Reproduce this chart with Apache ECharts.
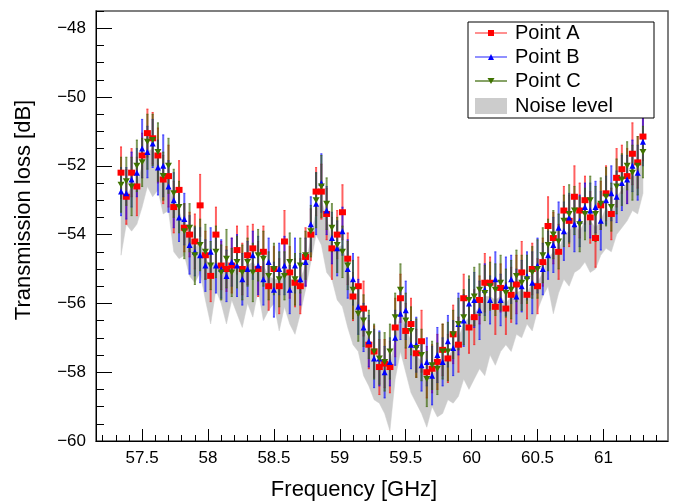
<!DOCTYPE html>
<html>
<head>
<meta charset="utf-8">
<script src="https://cdn.jsdelivr.net/npm/echarts@6/dist/echarts.min.js"></script>
<style>
html,body{margin:0;padding:0;background:#fff;}
#chart{width:676px;height:503px;}
</style>
</head>
<body>
<div id="chart"></div>
<script>
// ---------------- DATA ----------------
const freq = [57.34,57.38,57.42,57.46,57.50,57.54,57.58,57.62,57.66,57.70,
57.74,57.78,57.82,57.86,57.90,57.94,57.98,58.02,58.06,58.10,
58.14,58.18,58.22,58.26,58.30,58.34,58.38,58.42,58.46,58.50,
58.54,58.58,58.62,58.66,58.70,58.74,58.78,58.82,58.86,58.90,
58.94,58.98,59.02,59.06,59.10,59.14,59.18,59.22,59.26,59.30,
59.34,59.38,59.42,59.46,59.50,59.54,59.58,59.62,59.66,59.70,
59.74,59.78,59.82,59.86,59.90,59.94,59.98,60.02,60.06,60.10,
60.14,60.18,60.22,60.26,60.30,60.34,60.38,60.42,60.46,60.50,
60.54,60.58,60.62,60.66,60.70,60.74,60.78,60.82,60.86,60.90,
60.94,60.98,61.02,61.06,61.10,61.14,61.18,61.22,61.26,61.30];

const pointA = [-52.2,-52.9,-52.2,-52.6,-51.7,-51.05,-51.2,-51.7,-52.4,-52.3,
-53.2,-52.7,-53.8,-54.0,-54.2,-53.15,-54.6,-55.2,-54.0,-54.9,
-55.0,-54.9,-54.45,-55.0,-54.6,-54.4,-55.0,-54.5,-55.5,-55.0,
-55.5,-54.2,-55.1,-55.4,-55.5,-54.65,-54.0,-52.75,-52.75,-53.4,
-54.4,-54.0,-53.35,-54.7,-55.8,-55.5,-56.15,-57.2,-57.4,-57.85,
-57.75,-57.85,-56.7,-55.85,-56.8,-56.6,-57.45,-57.1,-58.0,-57.9,
-57.7,-57.35,-57.6,-56.9,-57.2,-55.85,-56.7,-56.4,-55.9,-55.4,
-55.4,-56.1,-55.55,-56.15,-55.75,-55.45,-55.1,-55.75,-55.0,-55.5,
-54.8,-53.75,-54.1,-54.5,-53.3,-53.6,-52.9,-53.3,-53.0,-53.5,
-54.1,-53.15,-52.8,-53.4,-52.35,-52.1,-52.3,-51.65,-51.9,-51.15];

const pointB = [-52.75,-52.8,-52.4,-52.2,-51.5,-51.6,-51.35,-52.05,-52.0,-52.6,
-53.0,-53.5,-53.55,-54.3,-54.5,-54.6,-54.9,-54.5,-54.9,-55.0,
-55.2,-54.8,-54.9,-55.3,-55.0,-54.6,-54.9,-55.3,-54.8,-55.6,
-55.0,-54.9,-55.6,-54.9,-55.3,-54.8,-53.7,-53.1,-52.5,-53.3,
-54.1,-54.4,-53.9,-55.0,-55.3,-56.1,-56.7,-57.1,-57.6,-57.6,
-58.0,-57.7,-57.0,-56.3,-56.2,-57.2,-57.2,-57.8,-57.7,-58.1,
-57.5,-57.7,-57.1,-57.3,-56.6,-56.5,-56.0,-55.9,-56.2,-55.6,
-55.9,-55.3,-55.9,-55.5,-55.3,-55.8,-55.5,-55.2,-55.4,-54.9,
-55.0,-54.6,-54.3,-53.8,-53.9,-53.5,-53.7,-53.6,-53.2,-53.3,
-53.2,-53.6,-53.0,-52.8,-52.9,-52.5,-52.4,-52.0,-52.2,-51.3];

const pointC = [-52.55,-52.45,-52.6,-52.0,-51.9,-51.3,-51.25,-51.6,-52.3,-52.0,
-52.8,-53.2,-53.9,-53.8,-54.6,-54.3,-54.5,-54.9,-54.5,-55.1,
-54.7,-55.1,-54.8,-55.1,-54.8,-55.1,-54.6,-54.7,-55.2,-55.0,
-55.3,-55.2,-54.8,-55.3,-54.9,-54.6,-53.9,-53.0,-52.6,-53.1,
-53.8,-54.3,-54.5,-54.9,-55.6,-56.3,-56.5,-56.9,-57.4,-57.6,
-57.7,-57.4,-56.4,-55.6,-56.5,-56.8,-57.3,-57.5,-58.2,-57.8,
-57.9,-57.4,-57.4,-56.9,-56.6,-56.4,-55.9,-55.8,-55.6,-55.7,
-55.5,-55.6,-55.4,-55.7,-55.6,-55.2,-55.4,-55.3,-55.1,-55.0,
-54.6,-54.3,-54.0,-54.2,-53.6,-53.4,-53.3,-53.7,-53.4,-53.0,
-53.4,-53.1,-52.9,-53.2,-52.6,-52.4,-52.0,-52.2,-52.0,-51.6];

const errA = [0.75,0.8,0.7,0.85,0.65,0.7,0.75,0.8,0.7,0.9,
0.75,0.85,0.7,0.65,0.8,0.9,0.7,0.75,0.8,0.7,
0.65,0.8,0.7,0.75,0.85,0.7,0.8,0.75,0.7,0.65,
0.8,0.9,0.75,0.7,0.8,0.85,0.75,0.7,0.8,0.75,
0.9,0.7,0.8,0.75,0.7,0.85,0.8,0.7,0.75,0.8,
0.7,0.75,0.85,0.7,0.8,0.75,0.7,0.9,0.75,0.7,
0.8,0.75,0.7,0.85,0.8,0.7,0.75,0.8,0.7,0.85,
0.75,0.8,0.7,0.75,0.8,0.85,0.9,0.7,0.75,0.8,
0.7,0.85,0.75,0.8,0.7,0.75,0.9,0.8,0.7,0.75,
0.85,0.7,0.8,0.75,0.85,0.7,0.8,0.9,0.75,0.7];

const errB = [0.7,0.75,0.8,0.7,0.85,0.75,0.7,0.8,0.9,0.75,
0.8,0.7,0.75,0.85,0.7,0.8,0.75,0.7,0.8,0.85,
0.75,0.7,0.9,0.75,0.8,0.7,0.85,0.75,0.7,0.8,
0.75,0.85,0.7,0.8,0.75,0.7,0.8,0.9,0.85,0.7,
0.75,0.8,0.7,0.85,0.75,0.8,0.7,0.75,0.85,0.8,
0.75,0.7,0.8,0.75,0.85,0.7,0.8,0.75,0.7,0.85,
0.8,0.7,0.75,0.8,0.9,0.75,0.7,0.8,0.85,0.75,
0.7,0.8,0.75,0.85,0.7,0.8,0.75,0.7,0.9,0.8,
0.75,0.7,0.8,0.75,0.85,0.7,0.8,0.75,0.7,0.8,
0.75,0.85,0.7,0.8,0.75,0.8,0.7,0.75,0.8,0.7];

const errC = [0.8,0.7,0.85,0.75,0.7,0.8,0.75,0.85,0.7,0.8,
0.7,0.75,0.8,0.7,0.85,0.75,0.8,0.7,0.75,0.8,
0.85,0.7,0.75,0.8,0.7,0.85,0.75,0.8,0.7,0.75,
0.8,0.7,0.85,0.75,0.8,0.7,0.75,0.8,0.9,0.75,
0.7,0.8,0.75,0.7,0.85,0.8,0.75,0.7,0.8,0.75,
0.85,0.8,0.7,0.75,0.8,0.7,0.85,0.75,0.8,0.7,
0.75,0.8,0.85,0.7,0.75,0.8,0.7,0.85,0.75,0.8,
0.7,0.75,0.8,0.7,0.85,0.75,0.8,0.7,0.75,0.85,
0.8,0.75,0.7,0.8,0.75,0.85,0.7,0.8,0.75,0.7,
0.8,0.75,0.85,0.7,0.8,0.75,0.7,0.8,0.85,0.75];

const noiseHigh = [-52.7,-52.9,-52.6,-52.5,-52.0,-51.6,-51.5,-51.9,-52.4,-52.5,
-53.1,-53.3,-53.8,-54.1,-54.4,-54.2,-54.7,-54.9,-54.8,-55.0,
-55.0,-55.0,-54.8,-55.2,-54.9,-54.8,-55.0,-54.9,-55.2,-55.3,
-55.3,-55.0,-55.3,-55.3,-55.3,-54.9,-54.1,-53.3,-53.0,-53.5,
-54.3,-54.4,-54.3,-55.0,-55.6,-56.1,-56.6,-57.2,-57.6,-57.8,
-58.0,-57.8,-57.0,-56.3,-56.7,-57.1,-57.5,-57.7,-58.2,-58.1,
-57.9,-57.7,-57.6,-57.3,-57.0,-56.6,-56.4,-56.3,-56.1,-55.8,
-55.8,-55.9,-55.8,-56.0,-55.8,-55.7,-55.6,-55.7,-55.4,-55.4,
-55.1,-54.7,-54.5,-54.5,-54.0,-53.9,-53.7,-53.9,-53.6,-53.6,
-53.8,-53.6,-53.2,-53.5,-52.9,-52.7,-52.5,-52.3,-52.3,-51.7];

const noiseLow = [-54.6,-53.7,-53.9,-53.7,-53.2,-52.6,-52.9,-52.7,-53.4,-53.3,
-54.5,-54.7,-54.6,-55.2,-55.4,-55.1,-55.9,-56.6,-55.6,-56.0,
-56.6,-55.9,-56.3,-56.7,-56.0,-56.4,-55.6,-56.5,-56.2,-56.0,
-56.8,-56.1,-56.6,-56.9,-56.3,-55.6,-54.8,-54.0,-54.3,-55.1,
-55.3,-55.9,-56.1,-56.7,-57.2,-57.4,-58.1,-58.4,-58.8,-58.9,
-59.2,-59.7,-58.2,-57.4,-58.0,-58.6,-58.9,-59.2,-59.6,-59.0,
-59.3,-59.2,-58.8,-58.9,-58.7,-58.2,-58.5,-58.2,-57.9,-58.1,
-57.5,-57.8,-57.4,-57.2,-57.4,-56.9,-57.0,-56.6,-56.8,-56.2,
-55.8,-55.5,-56.3,-55.7,-55.3,-55.5,-55.1,-55.0,-54.8,-55.1,
-55.0,-54.6,-54.4,-54.5,-54.0,-53.8,-53.6,-53.3,-53.4,-52.8];

const xTickLabels = [57.5,58,58.5,59,59.5,60,60.5,61];
const xMinorTicks = [57.2,57.3,57.4,57.5,57.6,57.7,57.8,57.9,58.0,58.1,58.2,58.3,58.4,58.5,58.6,58.7,58.8,58.9,59.0,59.1,59.2,59.3,59.4,59.5,59.6,59.7,59.8,59.9,60.0,60.1,60.2,60.3,60.4,60.5,60.6,60.7,60.8,60.9,61.0,61.1,61.2,61.3,61.4];
const yTickLabels = [-60,-58,-56,-54,-52,-50,-48];
const yMinorTicks = [-59.5,-59,-58.5,-58,-57.5,-57,-56.5,-56,-55.5,-55,-54.5,-54,-53.5,-53,-52.5,-52,-51.5,-51,-50.5,-50,-49.5,-49,-48.5,-48,-47.5];

const seriesNames = ['Point A','Point B','Point C','Noise level'];
const xTitle = 'Frequency [GHz]';
const yTitle = 'Transmission loss [dB]';

// ---------------- CHART ----------------
const FONT = "'Liberation Sans', Arial, Helvetica, sans-serif";
const X_MIN = 57.15, X_MAX = 61.49, Y_MIN = -60, Y_MAX = -47.5;

function minus(v){ return String(v).replace('-', '\u2212'); }

function errSeries(name, vals, errs, color, lw){
  return {
    type: 'custom', name: name, xAxisIndex: 0, yAxisIndex: 0,
    data: freq.map((f,i)=>[f, vals[i], errs[i]]),
    encode: {x:0, y:1},
    renderItem: function(params, api){
      const x = api.value(0), y = api.value(1), e = api.value(2);
      const p1 = api.coord([x, y + e]);
      const p2 = api.coord([x, y - e]);
      return {
        type: 'group',
        children: [
          {type:'line', shape:{x1:p1[0], y1:p1[1], x2:p2[0], y2:p2[1]}, style:{stroke:color, lineWidth:lw}},
          {type:'line', shape:{x1:p1[0]-1, y1:p1[1], x2:p1[0]+1, y2:p1[1]}, style:{stroke:color, lineWidth:1}},
          {type:'line', shape:{x1:p2[0]-1, y1:p2[1], x2:p2[0]+1, y2:p2[1]}, style:{stroke:color, lineWidth:1}}
        ]
      };
    },
    silent: true, animation: false
  };
}

function markerSeries(name, vals, symbol, size, color, rotate){
  return {
    type: 'scatter', name: name, xAxisIndex: 0, yAxisIndex: 0,
    data: freq.map((f,i)=>[f, vals[i]]),
    symbol: symbol, symbolSize: size, symbolRotate: rotate || 0,
    itemStyle: {color: color, opacity: 1},
    silent: true, animation: false
  };
}

const bandSeries = {
  type: 'custom', name: seriesNames[3], xAxisIndex: 0, yAxisIndex: 0,
  data: [[freq[0], noiseHigh[0]]],
  encode: {x:0, y:1},
  renderItem: function(params, api){
    const pts = [];
    for (let i = 0; i < freq.length; i++) pts.push(api.coord([freq[i], noiseHigh[i]]));
    for (let i = freq.length - 1; i >= 0; i--) pts.push(api.coord([freq[i], noiseLow[i]]));
    return {type:'polygon', shape:{points: pts}, style:{fill:'#cccccc', stroke:'#cccccc', lineWidth:0.5}};
  },
  silent: true, animation: false
};

const RED = '#ff0000', BLUE = '#0000ff', GREEN = '#3f7300';

const chart = echarts.init(document.getElementById('chart'), null, {renderer:'canvas'});
const gridL = 96, gridT = 11, gridR = 8, gridB = 62;

const legendX = 468, legendY = 22;
const legendRows = [33, 57, 81, 106];

const option = {
  animation: false,
  backgroundColor: '#ffffff',
  grid: {left: gridL, top: gridT, right: gridR, bottom: gridB, show: true, borderColor: '#555555', borderWidth: 1.5, backgroundColor: 'transparent'},
  xAxis: [
    {
      type: 'value', min: X_MIN, max: X_MAX, position: 'bottom',
      axisLine: {show: true, onZero: false, lineStyle: {color: '#000', width: 1}},
      axisTick: {show: true, inside: true, length: 12, customValues: xTickLabels, lineStyle: {color: '#000', width: 1}},
      axisLabel: {show: true, customValues: xTickLabels, margin: 9, color: '#000', fontSize: 17, fontFamily: FONT, formatter: v => String(v)},
      splitLine: {show: false}
    },
    {
      type: 'value', min: X_MIN, max: X_MAX, position: 'bottom',
      axisLine: {show: false, onZero: false},
      axisTick: {show: true, inside: true, length: 6, customValues: xMinorTicks, lineStyle: {color: '#000', width: 1}},
      axisLabel: {show: false},
      splitLine: {show: false}
    }
  ],
  yAxis: [
    {
      type: 'value', min: Y_MIN, max: Y_MAX, position: 'left',
      axisLine: {show: true, onZero: false, lineStyle: {color: '#000', width: 1}},
      axisTick: {show: true, inside: true, length: 16, customValues: yTickLabels, lineStyle: {color: '#000', width: 1}},
      axisLabel: {show: true, customValues: yTickLabels, margin: 10, color: '#000', fontSize: 17, fontFamily: FONT, formatter: v => minus(v)},
      splitLine: {show: false}
    },
    {
      type: 'value', min: Y_MIN, max: Y_MAX, position: 'left',
      axisLine: {show: false, onZero: false},
      axisTick: {show: true, inside: true, length: 8, customValues: yMinorTicks, lineStyle: {color: '#000', width: 1}},
      axisLabel: {show: false},
      splitLine: {show: false}
    }
  ],
  series: [
    bandSeries,
    errSeries(seriesNames[0], pointA, errA, 'rgba(255,0,0,0.62)', 2),
    markerSeries(seriesNames[0], pointA, 'rect', [7,6], RED),
    errSeries(seriesNames[1], pointB, errB, 'rgba(0,0,255,0.62)', 2),
    markerSeries(seriesNames[1], pointB, 'triangle', [6,6], BLUE),
    errSeries(seriesNames[2], pointC, errC, 'rgba(55,100,0,0.65)', 2),
    markerSeries(seriesNames[2], pointC, 'triangle', [7,6], GREEN, 180)
  ],
  graphic: [
    {type:'text', z:100, x: 354, y: 490, style:{text: xTitle, font: '22px ' + FONT, fill:'#000', align:'center', verticalAlign:'middle'}},
    {type:'text', z:100, x: 24, y: 210, rotation: Math.PI/2, style:{text: yTitle, font: '22px ' + FONT, fill:'#000', align:'center', verticalAlign:'middle'}},
    {type:'rect', z:100, shape:{x: legendX, y: legendY, width: 186, height: 96}, style:{fill:'#ffffff', stroke:'#000000', lineWidth:1}},
    {type:'line', z:101, shape:{x1:475, y1:legendRows[0], x2:507, y2:legendRows[0]}, style:{stroke:'rgba(255,0,0,0.55)', lineWidth:1.6}},
    {type:'rect', z:102, shape:{x:488, y:legendRows[0]-3, width:6, height:6}, style:{fill:RED}},
    {type:'text', z:102, x:515, y:legendRows[0], style:{text: seriesNames[0], font:'20px ' + FONT, fill:'#000', verticalAlign:'middle'}},
    {type:'line', z:101, shape:{x1:475, y1:legendRows[1], x2:507, y2:legendRows[1]}, style:{stroke:'rgba(0,0,255,0.55)', lineWidth:1.6}},
    {type:'polygon', z:102, shape:{points:[[491,legendRows[1]-3],[494,legendRows[1]+3],[488,legendRows[1]+3]]}, style:{fill:BLUE}},
    {type:'text', z:102, x:515, y:legendRows[1], style:{text: seriesNames[1], font:'20px ' + FONT, fill:'#000', verticalAlign:'middle'}},
    {type:'line', z:101, shape:{x1:475, y1:legendRows[2], x2:507, y2:legendRows[2]}, style:{stroke:'rgba(55,100,0,0.75)', lineWidth:1.6}},
    {type:'polygon', z:102, shape:{points:[[491,legendRows[2]+3],[494.5,legendRows[2]-3],[487.5,legendRows[2]-3]]}, style:{fill:GREEN}},
    {type:'text', z:102, x:515, y:legendRows[2], style:{text: seriesNames[2], font:'20px ' + FONT, fill:'#000', verticalAlign:'middle'}},
    {type:'rect', z:102, shape:{x:475, y:legendRows[3]-8, width:32, height:16}, style:{fill:'#cccccc'}},
    {type:'text', z:102, x:515, y:legendRows[3], style:{text: seriesNames[3], font:'20px ' + FONT, fill:'#000', verticalAlign:'middle'}}
  ]
};
chart.setOption(option);
</script>
</body>
</html>
